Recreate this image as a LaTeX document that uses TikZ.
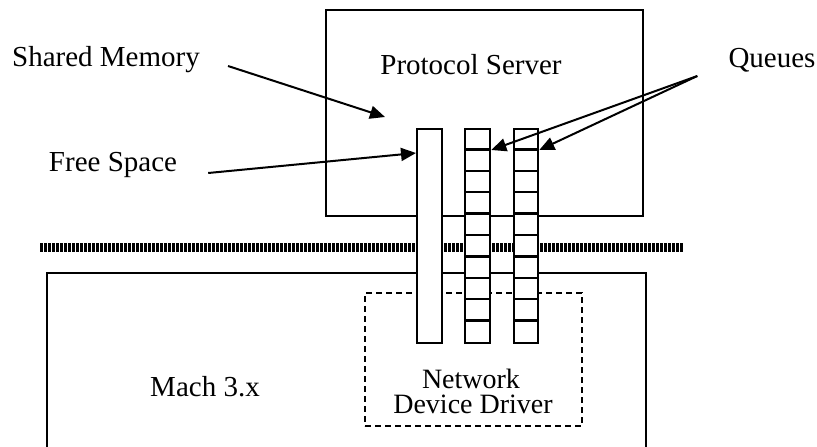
\documentclass[tikz,border=0pt]{standalone}
\usepackage{fontspec}
\setmainfont{Liberation Serif}
\usetikzlibrary{arrows.meta}
\begin{document}
\begin{tikzpicture}[x=1pt,y=-1pt,
  box/.style={draw,line width=2.3pt,inner sep=0pt,anchor=north west},
  col/.style={draw,line width=2.3pt,fill=white,inner sep=0pt,minimum height=214pt,anchor=north west},
  lbl/.style={font=\fontsize{29}{23}\selectfont,inner sep=0pt},
  ptr/.style={line width=2pt,-{Triangle[length=15pt,width=13pt]}},
  hatch/.style={line width=9pt,dash pattern=on 2.6pt off 1.4pt}
]
\useasboundingbox (0,0) rectangle (817,447);

% server and kernel boxes
\node[box,minimum width=317pt,minimum height=206pt] (server) at (325,9) {};
\draw[line width=2.3pt] (47,470) -- (47,273) -- (646,273) -- (646,470);
\node[box,dashed,dash pattern=on 6pt off 4pt,line width=2pt,
      minimum width=217pt,minimum height=133pt] (driver) at (364,292) {};

% address-space boundary
\draw[hatch] (40,247) -- (683,247);

% free-space region and the two queues
\node[col,minimum width=25pt] (free) at (416,128) {};
\node[col,minimum width=25pt] (q1) at (464,128) {};
\node[col,minimum width=24pt] (q2) at (513,128) {};
\foreach \q in {q1,q2}
  \foreach \i in {1,...,9}
    \draw[line width=2.3pt] ([yshift=-\i*21.4pt]\q.north west) -- ([yshift=-\i*21.4pt]\q.north east);

% labels
\node[lbl] (srvlbl) at (471,65) {Protocol Server};
\node[lbl] (shm) at (106,60) {Shared Memory};
\node[lbl] (fs) at (113,165) {Free Space};
\node[lbl] (qs) at (772,60) {Queues};
\node[lbl] (mach) at (205,387) {Mach 3.x};
\node[lbl,anchor=base,font=\fontsize{28}{23}\selectfont] (drvlbl1) at (471,388) {Network};
\node[lbl,anchor=base,font=\fontsize{28}{23}\selectfont] (drvlbl2) at (473,413) {Device Driver};

% pointers
\coordinate (shmtip) at (385,117);
\draw[ptr] ([shift={(28,6)}]shm.east) -- (shmtip);
\draw[ptr] ([shift={(31,8)}]fs.east) -- ([yshift=-25pt]free.north west);
\draw[ptr] ([shift={(-31,16)}]qs.west) -- ([yshift=-22pt]q1.north east);
\draw[ptr] ([shift={(-31,16)}]qs.west) -- ([yshift=-22pt]q2.north east);
\end{tikzpicture}
\end{document}
